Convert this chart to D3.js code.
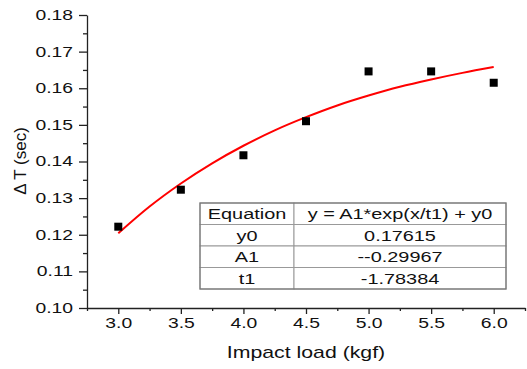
<!DOCTYPE html>
<meta charset="utf-8">
<style>
body { margin: 0; background: #fff; }
text { font-family: "Liberation Sans", Arial, sans-serif; fill: #111; }
.axis path, .axis line { stroke: #222; stroke-width: 1.3px; }
.fit { fill: none; stroke: #ff0000; stroke-width: 2px; }
.cell { fill: #fff; stroke: #999; stroke-width: 1px; }
</style>
<svg width="527" height="369"></svg>
<script src="https://d3js.org/d3.v7.min.js"></script>
<script>

// measured points
var loads = [3.0, 3.5, 4.0, 4.5, 5.0, 5.5, 6.0];
var dT = [0.1222, 0.1323, 0.1417, 0.1510, 0.1646, 0.1646, 0.1615];

// fitted curve
var fitX = [3.0, 3.25, 3.5, 3.75, 4.0, 4.25, 4.5, 4.75, 5.0, 5.25, 5.5, 5.75, 6.0];
var fitY = [0.1204, 0.1277, 0.1340, 0.1395, 0.1443, 0.1485, 0.1521, 0.1553, 0.1580, 0.1604, 0.1624, 0.1642, 0.1658];

var xTicks = [3.0, 3.5, 4.0, 4.5, 5.0, 5.5, 6.0];
var yTicks = [0.10, 0.11, 0.12, 0.13, 0.14, 0.15, 0.16, 0.17, 0.18];

var tableRows = [
  ["Equation", "y = A1*exp(x/t1) + y0"],
  ["y0", "0.17615"],
  ["A1", "--0.29967"],
  ["t1", "-1.78384"]
];

var svg = d3.select("svg");
var sx = 1.38; // text in the picture is a bit wide

var x = d3.scaleLinear().domain([2.75, 6.25]).range([87, 525]);
var y = d3.scaleLinear().domain([0.10, 0.18]).range([308, 15]);

// minor ticks first
var xMinor = d3.range(2.75, 6.26, 0.25).filter(function(v) { return Math.abs(v * 2 - Math.round(v * 2)) > 0.01; });
var yMinor = d3.range(0.105, 0.18, 0.01);

svg.append("g").attr("class", "axis")
  .attr("transform", "translate(0,308)")
  .call(d3.axisBottom(x).tickValues(xMinor).tickSize(3).tickFormat(""))
  .select(".domain").remove();
svg.append("g").attr("class", "axis")
  .attr("transform", "translate(87,0)")
  .call(d3.axisLeft(y).tickValues(yMinor).tickSize(4).tickFormat(""))
  .select(".domain").remove();

var gx = svg.append("g").attr("class", "axis")
  .attr("transform", "translate(0,308)")
  .call(d3.axisBottom(x).tickValues(xTicks).tickSize(6).tickSizeOuter(0).tickPadding(4).tickFormat(d3.format(".1f")));
gx.selectAll("text")
  .style("font-size", "14px")
  .attr("transform", "scale(" + sx + ",1)");

var gy = svg.append("g").attr("class", "axis")
  .attr("transform", "translate(87,0)")
  .call(d3.axisLeft(y).tickValues(yTicks).tickSize(8).tickSizeOuter(0).tickPadding(6).tickFormat(d3.format(".2f")));
gy.selectAll("text")
  .style("font-size", "14px")
  .attr("x", -14 / sx)
  .attr("transform", "scale(" + sx + ",1)");

// axis titles
svg.append("text")
  .attr("transform", "translate(306,358) scale(1.33,1)")
  .attr("text-anchor", "middle")
  .style("font-size", "16px")
  .text("Impact load (kgf)");

svg.append("text")
  .attr("transform", "translate(26,161) rotate(-90)")
  .attr("text-anchor", "middle")
  .style("font-size", "17px")
  .text("\u0394 T (sec)");

// fit line
var line = d3.line()
  .x(function(d, i) { return x(fitX[i]); })
  .y(function(d) { return y(d); })
  .curve(d3.curveMonotoneX);
svg.append("path").attr("class", "fit").attr("d", line(fitY));

// points
svg.selectAll(".pt").data(dT).enter().append("rect")
  .attr("class", "pt")
  .attr("x", function(d, i) { return x(loads[i]) - 4; })
  .attr("y", function(d) { return y(d) - 4; })
  .attr("width", 8).attr("height", 8)
  .attr("fill", "#000");

// parameter table
var tx = 200, ty = 203, colW = [94, 212], rowH = 21.5;
var tbl = svg.append("g");
tableRows.forEach(function(r, i) {
  var cx = tx;
  r.forEach(function(c, j) {
    tbl.append("rect").attr("class", "cell")
      .attr("x", cx).attr("y", ty + i * rowH)
      .attr("width", colW[j]).attr("height", rowH);
    tbl.append("text")
      .attr("transform", "translate(" + (cx + colW[j] / 2) + "," + (ty + i * rowH + 16) + ") scale(1.42,1)")
      .attr("text-anchor", "middle")
      .style("font-size", "14px")
      .text(c);
    cx += colW[j];
  });
});
tbl.append("rect")
  .attr("x", tx).attr("y", ty)
  .attr("width", colW[0] + colW[1]).attr("height", rowH * tableRows.length)
  .attr("fill", "none").attr("stroke", "#777").attr("stroke-width", 1.2);

</script>
